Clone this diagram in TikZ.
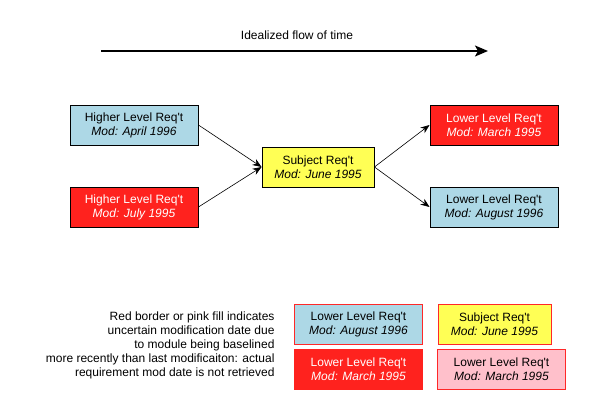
\documentclass[tikz,border=0pt]{standalone}
\usepackage{fontspec}
\setmainfont{Liberation Sans}
\usetikzlibrary{arrows.meta}
\definecolor{reqblue}{RGB}{173,216,230}
\definecolor{reqred}{RGB}{255,34,30}
\definecolor{reqyellow}{RGB}{255,255,85}
\definecolor{reqpink}{RGB}{255,192,203}
\definecolor{uncertain}{RGB}{255,40,40}
\newcommand{\reqt}{Req\textquotesingle t}

\begin{document}
\begin{tikzpicture}[x=1pt,y=-1pt,
    req/.style={draw=black, line width=0.9pt, minimum width=128pt, minimum height=40pt,
      inner sep=0pt, align=center, font=\fontsize{12}{14}\selectfont},
    subj/.style={req, minimum width=112pt},
    legend/.style={req, draw=uncertain, line width=0.8pt},
    flow/.style={line width=0.6pt, -{Stealth[length=9pt,width=7pt]}}]
    \useasboundingbox (0,0) rectangle (600,412);

    % time arrow
    \coordinate (tstart) at (101,51);
    \coordinate (tend) at (488,51);
    \draw[line width=1.6pt, -{Stealth[length=13pt,width=11pt,inset=3pt]}] (tstart) -- (tend);
    \node[font=\fontsize{12}{14}\selectfont] (tlabel) at (297,35) {Idealized flow of time};

    % higher level requirements
    \node[req, fill=reqblue] (high1) at (134,125) {Higher Level \reqt\\ \textit{Mod: April 1996}};
    \node[req, fill=reqred, text=white] (high2) at (134,207) {Higher Level \reqt\\ \textit{Mod: July 1995}};

    % subject requirement
    \node[subj, fill=reqyellow] (subject) at (318,167) {Subject \reqt\\ \textit{Mod: June 1995}};

    % lower level requirements
    \node[req, fill=reqred, text=white] (low1) at (494,125) {Lower Level \reqt\\ \textit{Mod: March 1995}};
    \node[req, fill=reqblue] (low2) at (494,207) {Lower Level \reqt\\ \textit{Mod: August 1996}};

    \draw[flow] (high1.east) -- (subject.west);
    \draw[flow] (high2.east) -- (subject.west);
    \draw[flow] (subject.east) -- (low1.west);
    \draw[flow] (subject.east) -- (low2.west);

    % legend
    \node[align=right, anchor=east, font=\fontsize{12}{14}\selectfont] (note) at (278,345)
      {Red border or pink fill indicates\\ uncertain modification date due\\ to module being baselined\\
       more recently than last modificaiton: actual\\ requirement mod date is not retrieved};
    \node[legend, fill=reqblue] (key1) at (358.5,324) {Lower Level \reqt\\ \textit{Mod: August 1996}};
    \node[legend, fill=reqyellow, minimum width=113pt] (key2) at (494.5,324) {Subject \reqt\\ \textit{Mod: June 1995}};
    \node[legend, fill=reqred, draw=reqred, text=white] (key3) at (358.5,369) {Lower Level \reqt\\ \textit{Mod: March 1995}};
    \node[legend, fill=reqpink] (key4) at (501.5,369) {Lower Level \reqt\\ \textit{Mod: March 1995}};
\end{tikzpicture}
\end{document}
